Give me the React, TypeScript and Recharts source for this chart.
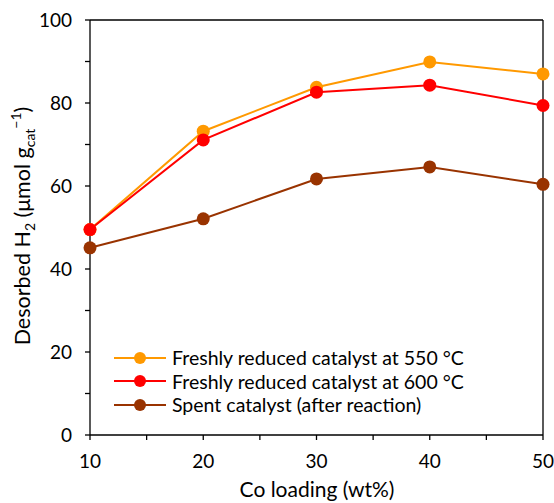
import React from "react"
import { LineChart, Line, XAxis, YAxis, ReferenceLine } from "recharts"

const loading = [10, 20, 30, 40, 50]
const fresh550 = [49.5, 73.2, 83.8, 89.9, 87.0]
const fresh600 = [49.5, 71.1, 82.6, 84.3, 79.4]
const spent = [45.1, 52.1, 61.7, 64.6, 60.4]
const xTicks = [10, 15, 20, 25, 30, 35, 40, 45, 50]
const yTicks = [0, 10, 20, 30, 40, 50, 60, 70, 80, 90, 100]

const series = [
  { key: "fresh550", name: "Freshly reduced catalyst at 550 °C", color: "#FF9900" },
  { key: "fresh600", name: "Freshly reduced catalyst at 600 °C", color: "#FF0000" },
  { key: "spent", name: "Spent catalyst (after reaction)", color: "#993300" },
]

const data = loading.map((x, i) => ({
  x,
  fresh550: fresh550[i],
  fresh600: fresh600[i],
  spent: spent[i],
}))

const font = "Lato, 'Open Sans', sans-serif"

const YLabel = () => (
  <text transform="translate(30,226) rotate(-90)" textAnchor="middle" fontSize={21.5} fontFamily={font} fill="#000">
    Desorbed H<tspan dy={5} fontSize={14}>2</tspan>
    <tspan dy={-5}> (μmol g</tspan>
    <tspan dy={5} fontSize={14}>cat</tspan>
    <tspan dy={-14} fontSize={14}>−1</tspan>
    <tspan dy={9}>)</tspan>
  </text>
)

const XLabel = () => (
  <text x={317} y={497} textAnchor="middle" fontSize={21} fontFamily={font} fill="#000">
    Co loading (wt%)
  </text>
)

const LegendBox = () => (
  <div style={{ position: "absolute", left: 112, top: 346, fontFamily: font, fontSize: 19.5, color: "#000" }}>
    {series.map((s) => (
      <div key={s.key} style={{ display: "flex", alignItems: "center", height: 23.5 }}>
        <svg width={56} height={16}>
          <line x1={2} y1={8} x2={54} y2={8} stroke={s.color} strokeWidth={2} />
          <circle cx={28} cy={8} r={6} fill={s.color} />
        </svg>
        <span style={{ marginLeft: 4, whiteSpace: "nowrap" }}>{s.name}</span>
      </div>
    ))}
  </div>
)

export default function App() {
  return (
    <div style={{ position: "absolute", left: 0, top: 0, width: 554, height: 503, background: "#fff", overflow: "hidden" }}>
      <LineChart width={554} height={503} data={data} margin={{ top: 20, right: 11, bottom: 0, left: 0 }}>
        <XAxis
          dataKey="x"
          type="number"
          domain={[10, 50]}
          ticks={xTicks}
          tickFormatter={(v: number) => (v % 10 === 0 ? String(v) : "")}
          height={68}
          tickSize={5}
          tickMargin={15}
          stroke="#000"
          strokeWidth={1.3}
          tick={{ fill: "#000", fontSize: 19, fontFamily: font }}
          label={<XLabel />}
        />
        <YAxis
          type="number"
          domain={[0, 100]}
          ticks={yTicks}
          tickFormatter={(v: number) => (v % 20 === 0 ? String(v) : "")}
          width={90}
          tickSize={5}
          tickMargin={13}
          stroke="#000"
          strokeWidth={1.3}
          tick={{ fill: "#000", fontSize: 19, fontFamily: font }}
          label={<YLabel />}
        />
        <ReferenceLine y={100} stroke="#000" strokeWidth={1.3} />
        <ReferenceLine x={50} stroke="#000" strokeWidth={1.3} />
        {series.map((s) => (
          <Line
            key={s.key}
            dataKey={s.key}
            name={s.name}
            stroke={s.color}
            strokeWidth={2}
            dot={{ r: 6.5, fill: s.color, stroke: s.color, strokeWidth: 0 }}
            isAnimationActive={false}
          />
        ))}
      </LineChart>
      <LegendBox />
    </div>
  )
}
